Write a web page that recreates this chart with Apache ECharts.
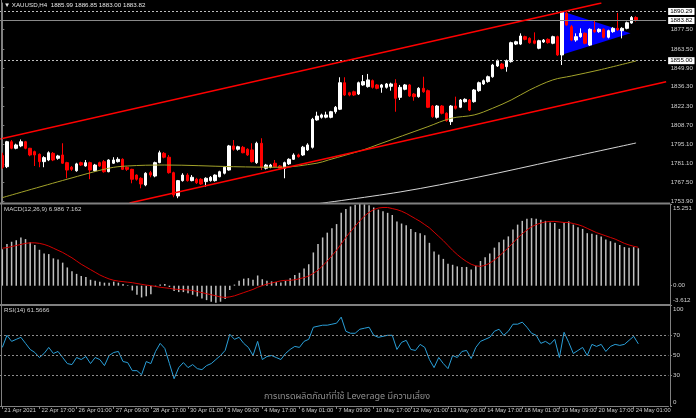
<!DOCTYPE html>
<html><head><meta charset="utf-8">
<script src="https://cdn.jsdelivr.net/npm/echarts@6/dist/echarts.min.js"></script>
<style>html,body{margin:0;padding:0;background:#000;}#c{width:696px;height:418px;}</style>
</head><body><div id="c"></div>
<script>
// ---------- DATA ----------
const slotCount = 144; // bar slots across the price window (incl. right chart shift)
const xTickIdx = [0,8,16,24,32,40,48,56,64,72,80,88,96,104,112,120,128,136];
const xTickText = ['21 Apr 2021','22 Apr 17:00','26 Apr 01:00','27 Apr 09:00','28 Apr 17:00','30 Apr 01:00','3 May 09:00','4 May 17:00','6 May 01:00','7 May 09:00','10 May 17:00','12 May 01:00','13 May 09:00','14 May 17:00','18 May 01:00','19 May 09:00','20 May 17:00','24 May 01:00'];

const opens = [1787.0,1779.0,1796.9,1792.2,1793.9,1796.9,1792.2,1789.8,1787.9,1782.6,
1783.8,1788.6,1785.0,1787.4,1781.9,1778.6,1776.1,1781.9,1779.5,1781.9,
1776.1,1781.9,1782.6,1775.4,1781.5,1782.6,1784.3,1778.6,1777.1,1773.0,
1770.7,1765.9,1774.7,1772.3,1781.9,1788.6,1785.8,1774.7,1758.0,1769.0,
1773.0,1769.0,1770.0,1770.0,1768.3,1769.0,1769.0,1771.8,1774.3,1776.6,
1793.9,1791.5,1792.9,1791.5,1791.0,1781.9,1795.8,1777.9,1778.6,1781.5,
1779.5,1777.9,1781.0,1784.3,1787.4,1787.4,1791.0,1792.9,1812.5,1814.4,
1814.5,1814.4,1818.4,1820.2,1839.2,1832.0,1832.7,1831.1,1837.6,1836.4,
1840.7,1837.6,1835.9,1835.9,1836.6,1838.8,1828.7,1834.5,1837.6,1831.1,
1829.2,1835.2,1833.5,1822.5,1814.4,1822.5,1817.3,1811.3,1822.5,1821.6,
1825.6,1826.8,1825.6,1833.5,1838.3,1840.0,1843.5,1851.2,1852.6,1850.7,
1854.3,1866.9,1866.9,1872.2,1871.0,1869.3,1863.9,1868.4,1870.3,1867.5,
1872.2,1859.1,1889.0,1879.4,1869.8,1872.2,1874.6,1866.2,1877.0,1875.8,
1877.5,1871.8,1875.8,1878.2,1876.5,1878.2,1882.0,1885.99];
const closes = [1778.6,1796.9,1792.2,1794.6,1796.9,1792.2,1787.4,1787.4,1782.6,1785.5,
1789.0,1783.8,1786.7,1781.5,1776.6,1777.1,1781.0,1780.2,1781.9,1776.6,
1780.2,1779.5,1775.4,1783.8,1783.8,1784.3,1777.1,1777.1,1770.0,1770.0,
1766.6,1774.3,1773.0,1781.9,1789.0,1785.8,1774.7,1758.7,1769.0,1773.0,
1769.0,1771.4,1767.5,1766.6,1770.7,1771.4,1773.0,1775.4,1778.6,1793.9,
1791.5,1793.3,1789.0,1787.4,1782.6,1795.8,1778.6,1780.2,1780.2,1779.0,
1777.9,1781.9,1784.3,1787.4,1786.2,1793.0,1794.6,1813.0,1815.3,1816.1,
1816.1,1818.4,1821.6,1839.2,1830.4,1830.4,1830.4,1839.2,1840.0,1841.2,
1835.9,1835.2,1837.6,1838.3,1838.3,1828.0,1835.9,1837.6,1829.7,1829.2,
1835.2,1832.7,1821.6,1814.9,1822.5,1817.3,1812.0,1822.5,1820.9,1826.8,
1827.3,1819.6,1834.0,1839.2,1840.7,1843.5,1851.9,1855.0,1849.5,1855.0,
1867.9,1868.6,1872.7,1870.3,1867.9,1867.5,1869.3,1869.8,1867.9,1872.2,
1859.1,1890.1,1880.6,1869.8,1872.2,1874.6,1867.5,1877.5,1875.8,1877.5,
1871.8,1876.5,1878.2,1877.0,1878.2,1882.2,1886.0,1883.82];
const lows = [1777.5,1778.0,1791.5,1791.5,1793.0,1791.5,1786.5,1779.5,1778.6,1778.6,
1783.0,1783.0,1784.0,1781.0,1770.7,1776.0,1775.4,1779.5,1779.0,1770.0,
1775.4,1779.0,1774.7,1775.0,1781.0,1782.0,1776.6,1776.0,1767.1,1769.0,
1763.5,1765.0,1771.4,1771.4,1781.5,1785.0,1774.0,1757.1,1756.4,1768.3,
1768.3,1768.5,1766.6,1765.9,1764.7,1768.3,1768.3,1771.4,1773.5,1776.1,
1790.5,1790.5,1788.6,1786.7,1782.0,1781.0,1776.6,1777.0,1777.9,1778.6,
1777.1,1770.7,1780.2,1783.8,1785.5,1786.7,1790.3,1792.0,1812.0,1813.5,
1813.7,1813.7,1817.0,1819.6,1829.7,1829.5,1829.7,1830.4,1837.0,1835.7,
1835.0,1834.5,1832.0,1835.0,1833.5,1818.4,1826.8,1833.8,1829.0,1826.3,
1828.5,1832.0,1821.0,1814.0,1813.5,1816.5,1811.3,1808.9,1820.0,1821.0,
1825.0,1818.9,1824.9,1832.7,1837.6,1839.2,1842.8,1850.5,1848.8,1847.1,
1853.6,1866.2,1866.2,1869.6,1867.2,1866.8,1863.2,1867.7,1867.2,1866.8,
1858.4,1851.9,1880.0,1869.0,1868.6,1871.5,1866.8,1865.5,1875.0,1875.0,
1871.0,1871.0,1875.0,1876.5,1871.0,1877.5,1881.5,1883.00];
const highs = [1789.0,1797.5,1798.1,1795.5,1798.5,1797.5,1792.5,1790.5,1788.5,1786.5,
1790.0,1789.5,1787.5,1795.8,1782.5,1779.5,1781.8,1782.6,1783.8,1782.6,
1781.0,1782.6,1783.8,1784.3,1785.8,1785.8,1785.0,1779.0,1777.5,1773.5,
1771.4,1775.0,1776.0,1782.6,1790.5,1789.5,1787.4,1775.4,1769.5,1774.3,
1774.3,1773.0,1771.0,1770.7,1771.4,1772.3,1773.5,1776.1,1779.5,1794.6,
1798.1,1794.0,1793.9,1792.2,1795.8,1796.9,1799.4,1781.0,1781.0,1783.8,
1780.2,1782.6,1785.0,1788.6,1788.3,1793.9,1795.8,1814.0,1818.4,1817.0,
1818.4,1819.0,1822.5,1843.1,1843.1,1832.7,1833.5,1840.0,1844.7,1845.5,
1841.5,1838.3,1838.3,1839.0,1839.2,1841.7,1837.6,1838.3,1838.3,1831.8,
1836.0,1843.5,1834.3,1823.2,1823.2,1823.2,1818.0,1823.2,1829.2,1827.5,
1828.0,1827.5,1834.7,1840.0,1841.5,1844.3,1852.7,1855.8,1853.4,1855.8,
1868.6,1869.3,1874.6,1872.9,1871.8,1875.3,1870.0,1870.5,1871.0,1872.9,
1872.9,1890.29,1890.1,1880.6,1874.6,1878.2,1875.3,1878.2,1883.7,1878.2,
1878.2,1877.2,1879.0,1889.3,1879.0,1883.0,1887.0,1886.85];

// moving averages read at a few points: [bar index, price]
const ma50Pts = [[0,1756.8],[14,1770.0],[23,1777.9],[27,1779.5],[35,1780.2],[50,1779.0],[60,1778.6],[68,1781.5],[70.5,1783.8],[78,1791.0],[81,1794.6],[92,1807.7],[97,1813.7],[102,1816.1],[106,1820.9],[110,1826.8],[114,1834.0],[119,1841.2],[123,1844.0],[129,1848.3],[137,1854.8]];
const ma200Pts = [[66,1751.5],[86,1760.9],[103,1771.6],[120,1783.8],[137,1796.0]];
// trend channel and triangle objects: [bar index, price]
const channelUpper = [[-0.5,1798.9],[129.5,1896.3]];
const channelLower = [[27.5,1752.97],[143.5,1839.9]];
const trianglePts = [[121.1,1890.29],[121.1,1859.4],[135.8,1874.6]];
const hLines = [{v:1890.29,dash:true},{v:1855.00,dash:true},{v:1883.82,dash:false}];
const priceRange = [1752.97,1896.35];
const priceTicks = [1753.90,1767.50,1781.10,1795.10,1808.70,1822.30,1836.30,1849.90,1863.50,1877.50];

const macdHist = [6.8,7.8,8.2,8.5,9.0,8.7,8.1,7.6,6.7,6.0,
5.9,5.1,4.9,4.3,3.4,2.7,2.2,1.8,1.6,1.1,
0.9,0.75,0.56,0.56,0.75,0.56,0.3,0.1,-0.9,-1.7,
-2.2,-2.0,-1.6,-0.2,0.2,0.3,-0.25,-1.0,-1.2,-1.2,
-1.4,-1.7,-2.0,-2.4,-2.7,-3.0,-3.2,-3.0,-2.5,-0.8,
0.2,0.9,1.3,1.4,1.1,1.9,1.2,0.9,0.8,0.7,
0.6,0.9,1.4,2.0,2.4,3.2,4.0,6.2,7.8,9.0,
9.9,10.7,11.5,13.6,14.3,14.8,15.1,15.251,15.2,15.0,
14.6,14.2,13.9,13.6,13.2,12.0,11.6,11.3,10.6,10.0,
9.8,9.4,8.0,6.4,5.8,5.0,4.1,3.9,3.6,3.5,
3.5,3.0,3.7,4.6,5.3,6.0,7.1,8.1,8.6,9.2,
10.5,11.4,12.1,12.5,12.6,12.5,12.3,12.1,11.8,11.7,
10.6,11.8,12.0,11.4,10.9,10.6,9.8,9.7,9.5,9.2,
8.6,8.3,8.0,7.6,7.2,7.1,7.2,6.986];
const macdSignal = [7.0,7.1,7.3,7.5,7.7,7.9,8.0,8.0,7.9,7.7,
7.4,7.0,6.6,6.2,5.7,5.2,4.6,4.0,3.5,3.0,
2.5,2.0,1.6,1.25,1.0,0.85,0.75,0.65,0.56,0.4,
0.25,0.1,0.0,-0.15,-0.3,-0.4,-0.5,-0.65,-0.7,-0.75,
-0.8,-0.9,-1.1,-1.3,-1.5,-1.7,-1.9,-2.1,-2.2,-2.1,
-1.9,-1.6,-1.3,-1.0,-0.7,-0.3,0.0,0.3,0.5,0.7,
0.9,1.0,1.0,1.1,1.3,1.5,1.8,2.3,2.9,3.7,
4.6,5.6,6.6,7.8,9.0,10.1,11.1,12.1,13.0,13.7,
14.2,14.5,14.6,14.6,14.4,14.2,13.9,13.5,13.0,12.5,
12.0,11.4,10.8,10.0,9.2,8.4,7.5,6.6,5.8,5.1,
4.5,4.0,3.7,3.6,3.8,4.2,4.8,5.5,6.3,7.1,
8.0,8.9,9.7,10.4,11.0,11.4,11.7,11.9,12.0,12.0,
11.9,11.8,11.8,11.6,11.4,11.1,10.7,10.3,9.9,9.6,
9.3,9.0,8.7,8.3,7.9,7.6,7.35,7.162];
const macdRange = [-3.612,15.251];
const macdTicks = [-3.612,0,15.251];

const rsi = [58,70,64,66,68,62,56,53,48,52,
58,52,54,48,42,41,48,46,49,42,
48,46,40,50,53,54,44,43,35,35,
31,44,42,54,62,57,42,27,38,43,
38,41,37,36,40,42,46,50,55,71,
66,68,62,58,50,64,46,49,50,48,
46,52,56,59,58,64,66,78,79,80,
80,81,82,88,74,72,72,76,77,78,
70,68,69,70,70,56,63,65,56,55,
61,58,46,38,48,42,37,50,48,54,
55,47,58,64,66,68,74,76,70,74,
81,81,83,78,72,70,62,64,61,66,
48,73,63,52,55,58,50,61,59,61,
54,59,61,60,61,65,69,61.5666];
const rsiLevels = [70,50,30];
const rsiTicks = [0,30,50,70,100];

const titleText = '\u25BC XAUUSD,H4  1885.99 1886.85 1883.00 1883.82';
const macdText = 'MACD(12,26,9) 6.986 7.162';
const rsiText = 'RSI(14) 61.5666';
const watermark = 'การเทรดผลิตภัณฑ์ที่ใช้ Leverage มีความเสี่ยง';

// ---------- font choice ----------
function hasFont(name){
  const c=document.createElement('canvas').getContext('2d');
  const t='1234567890 May Apr XAUUSD';
  c.font='20px monospace'; const a=c.measureText(t).width;
  c.font='20px "'+name+'", monospace'; const b=c.measureText(t).width;
  c.font='20px serif'; const d=c.measureText(t).width;
  c.font='20px "'+name+'", serif'; const e=c.measureText(t).width;
  return a!==b || d!==e;
}
const narrow = hasFont('Liberation Sans Narrow');
const FF = narrow ? '"Liberation Sans Narrow","Liberation Sans",sans-serif' : '"Liberation Sans","DejaVu Sans",sans-serif';
const FS = narrow ? 7.2 : 6.2;
const FSX = narrow ? 6.8 : 5.8;

const cats = Array.from({length:slotCount},(_,i)=>String(i));
const tickSet = new Set(xTickIdx);
const GL = -1.5, GR = 27.5;
const gridCol = '#808080';
const lblCol = '#cfcfcf';

const chart = echarts.init(document.getElementById('c'), null, {renderer:'canvas'});
function near(a,b){return Math.abs(a-b)<1e-6;}

const option = {
  backgroundColor:'#000',
  animation:false,
  grid:[
    {left:GL,right:GR,top:3,height:200},
    {left:GL,right:GR,top:204,height:101},
    {left:GL,right:GR,top:305,height:101}
  ],
  xAxis:[
    {type:'category',gridIndex:0,data:cats,show:false},
    {type:'category',gridIndex:1,data:cats,show:false},
    {type:'category',gridIndex:2,data:cats,
      axisLine:{show:true,lineStyle:{color:gridCol,width:1}},
      axisTick:{show:true,length:3,alignWithLabel:true,interval:(i)=>tickSet.has(i),lineStyle:{color:gridCol}},
      axisLabel:{show:true,interval:(i)=>tickSet.has(i),align:'left',padding:[0,0,0,2],margin:1,
        formatter:(v,i)=>xTickText[xTickIdx.indexOf(i)]||'',color:lblCol,fontSize:FSX,fontFamily:FF},
      splitLine:{show:false}},
    {type:'value',gridIndex:0,min:-0.5,max:slotCount-0.5,show:false}
  ],
  yAxis:[
    {type:'value',gridIndex:0,position:'right',offset:1.5,min:priceRange[0],max:priceRange[1],
      splitLine:{show:false},
      axisLine:{show:true,lineStyle:{color:gridCol}},
      axisTick:{show:true,length:2,customValues:priceTicks,lineStyle:{color:gridCol}},
      axisLabel:{customValues:priceTicks,formatter:v=>v.toFixed(2),color:lblCol,fontSize:FS,fontFamily:FF,margin:3}},
    {type:'value',gridIndex:1,position:'right',offset:1.5,min:macdRange[0],max:macdRange[1],
      splitLine:{show:false},
      axisLine:{show:true,lineStyle:{color:gridCol}},
      axisTick:{show:true,length:2,customValues:macdTicks,lineStyle:{color:gridCol}},
      axisLabel:{customValues:macdTicks,lineHeight:9,color:lblCol,fontSize:FS,fontFamily:FF,margin:3,
        formatter:v=> near(v,macdRange[1]) ? '\n'+v.toFixed(3) : near(v,macdRange[0]) ? v.toFixed(3)+'\n' : v.toFixed(2)}},
    {type:'value',gridIndex:2,position:'right',offset:1.5,min:0,max:100,
      splitLine:{show:false},
      axisLine:{show:true,lineStyle:{color:gridCol}},
      axisTick:{show:true,length:2,customValues:rsiTicks,lineStyle:{color:gridCol}},
      axisLabel:{customValues:rsiTicks,lineHeight:8,color:lblCol,fontSize:FS,fontFamily:FF,margin:3,
        formatter:v=> v===100 ? '\n100' : v===0 ? '0\n' : String(v)}}
  ],
  series:[
    {type:'custom',xAxisIndex:3,yAxisIndex:0,z:1,silent:true,
      data:[trianglePts[0]],
      renderItem:(params,api)=>({type:'polygon',shape:{points:trianglePts.map(p=>api.coord(p))},style:{fill:'#0000ff'}})},
    {type:'candlestick',xAxisIndex:0,yAxisIndex:0,z:3,barWidth:3,
      data:opens.map((o,i)=>[o,closes[i],lows[i],highs[i]]),
      itemStyle:{color:'#ffffff',color0:'#ff0000',borderColor:'#ffffff',borderColor0:'#ff0000',borderWidth:1},
      markLine:{silent:true,symbol:['none','none'],animation:false,
        data:hLines.map(h=>({yAxis:h.v,lineStyle:{color:h.dash?'#bdbdbd':'#8a8a8a',type:h.dash?[2,2]:'solid',width:1}})),
        label:{show:true,position:'end',distance:2,formatter:p=>Number(p.value).toFixed(2),
          color:'#000',backgroundColor:'#ffffff',padding:[1,2,0,2],fontSize:FS,fontFamily:FF}}},
    {type:'line',xAxisIndex:3,yAxisIndex:0,z:4,data:ma50Pts,smooth:0.35,showSymbol:false,
      lineStyle:{color:'#a3a32a',width:1}},
    {type:'line',xAxisIndex:3,yAxisIndex:0,z:4,data:ma200Pts,smooth:0.35,showSymbol:false,
      lineStyle:{color:'#d6d6d6',width:1}},
    {type:'line',xAxisIndex:3,yAxisIndex:0,z:5,data:channelUpper,showSymbol:false,
      lineStyle:{color:'#ff0000',width:1.5}},
    {type:'line',xAxisIndex:3,yAxisIndex:0,z:5,data:channelLower,showSymbol:false,
      lineStyle:{color:'#ff0000',width:1.5}},
    {type:'bar',xAxisIndex:1,yAxisIndex:1,data:macdHist,barWidth:1.5,itemStyle:{color:'#c0c0c0'}},
    {type:'line',xAxisIndex:1,yAxisIndex:1,data:macdSignal,showSymbol:false,
      lineStyle:{color:'#d40000',width:1}},
    {type:'line',xAxisIndex:2,yAxisIndex:2,data:rsi,showSymbol:false,
      lineStyle:{color:'#2a9fd8',width:1},
      markLine:{silent:true,symbol:['none','none'],label:{show:false},
        data:rsiLevels.map(v=>({yAxis:v})),lineStyle:{color:'#8c8c8c',type:[2,2],width:1}}}
  ],
  graphic:[
    {type:'line',z:100,shape:{x1:0,y1:203.5,x2:670,y2:203.5},style:{stroke:gridCol,lineWidth:2}},
    {type:'line',z:100,shape:{x1:0,y1:305,x2:670,y2:305},style:{stroke:gridCol,lineWidth:2}},
    {type:'line',z:100,shape:{x1:1.5,y1:0,x2:1.5,y2:406},style:{stroke:gridCol,lineWidth:1}},
    {type:'text',z:100,left:4,top:2,style:{text:titleText,fill:'#e6e6e6',fontSize:FS,fontFamily:FF}},
    {type:'text',z:100,left:4,top:206,style:{text:macdText,fill:'#d0d0d0',fontSize:FS,fontFamily:FF}},
    {type:'text',z:100,left:4,top:307,style:{text:rsiText,fill:'#d0d0d0',fontSize:FS,fontFamily:FF}},
    {type:'text',z:100,x:347,y:397,style:{text:watermark,fill:'#8e8e8e',fontSize:9,
      fontFamily:'"Noto Sans Thai","Noto Sans","DejaVu Sans",sans-serif',align:'center',verticalAlign:'middle'}}
  ]
};
chart.setOption(option);
</script>
</body></html>
